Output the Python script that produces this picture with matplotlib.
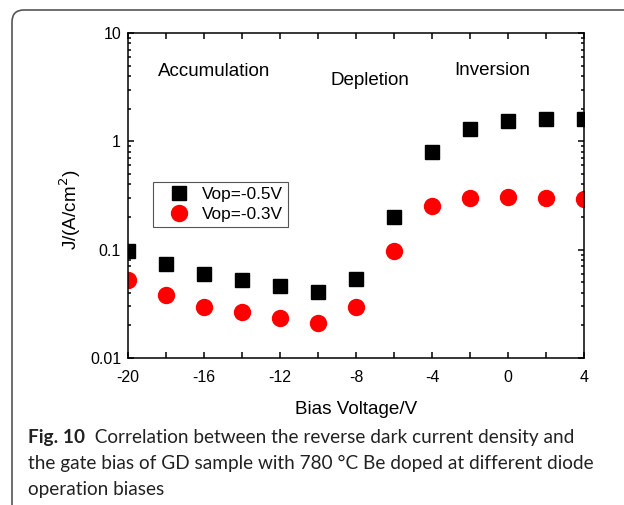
import numpy as np
import matplotlib
matplotlib.use("Agg")
import matplotlib.pyplot as plt
from matplotlib.patches import FancyBboxPatch
from matplotlib.transforms import IdentityTransform
from matplotlib.ticker import FixedLocator, LogLocator, NullFormatter, FixedFormatter

# data
bias = [-20, -18, -16, -14, -12, -10, -8, -6, -4, -2, 0, 2, 4]
j_vop05 = [0.097, 0.074, 0.059, 0.053, 0.0465, 0.041, 0.054, 0.20, 0.79, 1.31, 1.55, 1.62, 1.62]
j_vop03 = [0.052, 0.038, 0.0298, 0.0268, 0.0236, 0.0212, 0.0298, 0.098, 0.255, 0.30, 0.305, 0.30, 0.295]
series_labels = ["Vop=-0.5V", "Vop=-0.3V"]
x_ticks = [-20, -16, -12, -8, -4, 0, 4]
y_ticks = [0.01, 0.1, 1, 10]
y_tick_labels = ["0.01", "0.1", "1", "10"]
regions = ["Accumulation", "Depletion", "Inversion"]
caption = ["Fig. 10",
           "  Correlation between the reverse dark current density and",
           "the gate bias of GD sample with 780 \u00b0C Be doped at different diode",
           "operation biases"]

plt.rcParams['font.family'] = ['Liberation Sans', 'DejaVu Sans']
plt.rcParams['axes.unicode_minus'] = False

fig = plt.figure(figsize=(6.24, 5.05), dpi=100)
ax = fig.add_axes([0.2051, 0.2911, 0.7313, 0.6436])

ax.plot(bias, j_vop05, ls='none', marker='s', ms=10, color='black', label=series_labels[0])
ax.plot(bias, j_vop03, ls='none', marker='o', ms=11.5, color='#ff0000', mec='#ff0000', label=series_labels[1])

ax.set_yscale('log')
ax.set_xlim(-20, 4)
ax.set_ylim(0.01, 10)
ax.xaxis.set_major_locator(FixedLocator(x_ticks))
ax.xaxis.set_minor_locator(FixedLocator(np.arange(-20, 5, 2)))
ax.yaxis.set_major_locator(FixedLocator(y_ticks))
ax.yaxis.set_major_formatter(FixedFormatter(y_tick_labels))
ax.yaxis.set_minor_locator(LogLocator(base=10, subs=np.arange(2, 10), numticks=20))
ax.yaxis.set_minor_formatter(NullFormatter())

ax.tick_params(which='both', direction='in', top=True, right=True, labelsize=11.5, colors='black', width=1.1)
ax.tick_params(which='major', length=4.5, pad=5)
ax.tick_params(axis='x', which='major', pad=9)
ax.tick_params(axis='x', which='minor', length=4)
ax.tick_params(axis='y', which='minor', length=2.5)
for s in ax.spines.values():
    s.set_linewidth(1.1)

ax.set_xlabel('Bias Voltage/V', fontsize=13.6, labelpad=11)
ax.set_ylabel('J/(A/cm$^2$)', fontsize=13.6)
ax.yaxis.set_label_coords(-0.098, 0.455)

ax.text(-15.47, 4.37, regions[0], fontsize=13.5, ha='center', va='center')
ax.text(-7.26, 3.68, regions[1], fontsize=13.5, ha='center', va='center')
ax.text(-0.84, 4.55, regions[2], fontsize=13.5, ha='center', va='center')

leg = ax.legend(loc='upper left', bbox_to_anchor=(0.055, 0.5415), borderaxespad=0,
                fontsize=12.4, fancybox=False, edgecolor='#555555', framealpha=1,
                handletextpad=0.15, borderpad=0.3, labelspacing=0.25, handlelength=2.4)
leg.get_frame().set_linewidth(0.8)

# caption, font size fitted so the second line spans the same width as in the figure
cap_font = ['Lato', 'DejaVu Sans']
cap_color = '#222222'
probe = fig.text(0, 0, caption[2], fontsize=14, family=cap_font)
r = fig.canvas.get_renderer()
w = probe.get_window_extent(r).width
probe.remove()
cap_size = 14 * 569 / w

t1 = fig.text(28 / 624, 1 - 437 / 505, caption[0], fontsize=cap_size, fontweight='bold',
              family=cap_font, va='center', color=cap_color)
ax.annotate(caption[1], xy=(1, 0.5), xycoords=t1, va='center', ha='left',
            fontsize=cap_size, family=cap_font, color=cap_color, annotation_clip=False)
fig.text(28 / 624, 1 - 463 / 505, caption[2], fontsize=cap_size, family=cap_font,
         va='center', color=cap_color)
fig.text(28 / 624, 1 - 490 / 505, caption[3], fontsize=cap_size, family=cap_font,
         va='center', color=cap_color)

# frame around the figure panel
frame = FancyBboxPatch((12, -40), 700, 505 - 10 + 40, boxstyle='round,pad=0,rounding_size=12',
                       transform=IdentityTransform(), fill=False, ec='#555555', lw=1.2)
fig.add_artist(frame)

fig.savefig('out.png', dpi=100)
